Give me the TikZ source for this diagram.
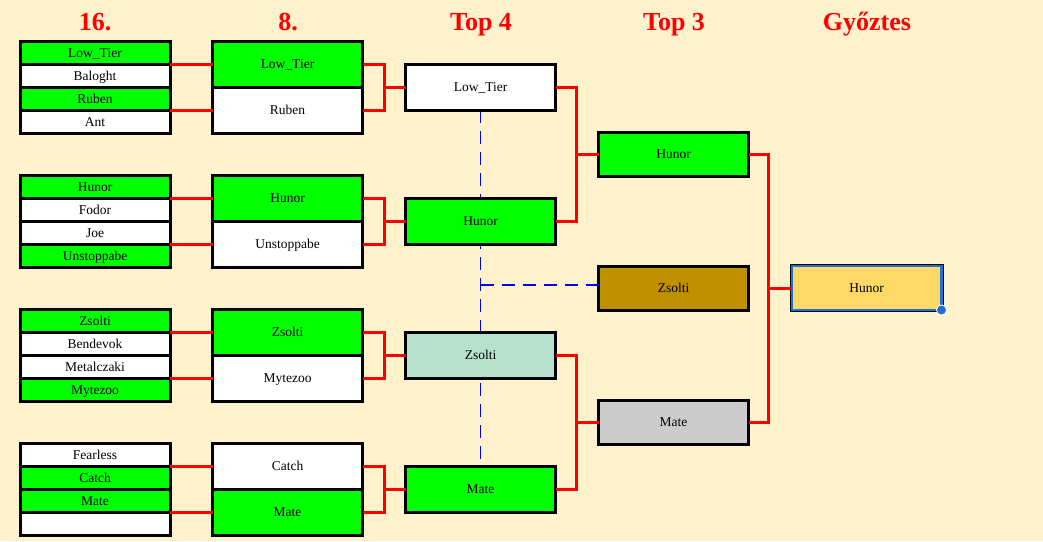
\documentclass[tikz,border=0pt]{standalone}
\usepackage{fontspec}
\setmainfont{Liberation Serif}
\definecolor{bg}{HTML}{FFF2CC}
\definecolor{gr}{HTML}{00FF00}
\definecolor{teal}{HTML}{B7E1CD}
\definecolor{bronze}{HTML}{BF9000}
\definecolor{silver}{HTML}{CCCCCC}
\definecolor{gold}{HTML}{FFD966}
\definecolor{wblue}{HTML}{1E6FD9}
\tikzset{
  cell/.style={draw=black, line width=3pt, inner sep=0pt, outer sep=0pt, minimum width=150pt, minimum height=23pt, text height=9pt, text depth=0pt, font=\fontsize{13.5}{13.5}\selectfont},
  cellb/.style={cell, minimum height=46pt},
  cellc/.style={cell, minimum height=44pt},
  conn/.style={draw=red, line width=3pt},
  seed/.style={draw=blue, line width=1.2pt, dash pattern=on 13pt off 8pt},
  ttl/.style={text=red, anchor=base, inner sep=0pt, font=\fontsize{26}{26}\selectfont\bfseries}
}
\begin{document}
\begin{tikzpicture}[x=1pt,y=-1pt]
\fill[bg] (0,0) rectangle (1043,541);
\useasboundingbox (0,0) rectangle (1043,541);
% titles
\node[ttl] (t16) at (95,30) {16.};
\node[ttl] (t8) at (288,30) {8.};
\node[ttl] (t4) at (481,30) {Top 4};
\node[ttl] (t3) at (674,30) {Top 3};
\node[ttl] (tw) at (867,30) {Győztes};
% seeding dashed lines (behind boxes)
\coordinate (s1) at (480.5,110);
\coordinate (s2) at (480.5,466);
\draw[seed] (s1) -- (s2);
% column 16
\node[cell, fill=gr] (a11) at (95,52.5) {Low\_Tier};
\node[cell, fill=white] (a12) at (95,75.5) {Baloght};
\node[cell, fill=gr] (a13) at (95,98.5) {Ruben};
\node[cell, fill=white] (a14) at (95,121.5) {Ant};
\node[cell, fill=gr] (a21) at (95,186.5) {Hunor};
\node[cell, fill=white] (a22) at (95,209.5) {Fodor};
\node[cell, fill=white] (a23) at (95,232.5) {Joe};
\node[cell, fill=gr] (a24) at (95,255.5) {Unstoppabe};
\node[cell, fill=gr] (a31) at (95,320.5) {Zsolti};
\node[cell, fill=white] (a32) at (95,343.5) {Bendevok};
\node[cell, fill=white] (a33) at (95,366.5) {Metalczaki};
\node[cell, fill=gr] (a34) at (95,389.5) {Mytezoo};
\node[cell, fill=white] (a41) at (95,454.5) {Fearless};
\node[cell, fill=gr] (a42) at (95,477.5) {Catch};
\node[cell, fill=gr] (a43) at (95,500.5) {Mate};
\node[cell, fill=white] (a44) at (95,523.5) {};
% column 8
\node[cellb, fill=gr] (b1t) at (287.5,64) {Low\_Tier};
\node[cellb, fill=white] (b1b) at (287.5,110) {Ruben};
\node[cellb, fill=gr] (b2t) at (287.5,198) {Hunor};
\node[cellb, fill=white] (b2b) at (287.5,244) {Unstoppabe};
\node[cellb, fill=gr] (b3t) at (287.5,332) {Zsolti};
\node[cellb, fill=white] (b3b) at (287.5,378) {Mytezoo};
\node[cellb, fill=white] (b4t) at (287.5,466) {Catch};
\node[cellb, fill=gr] (b4b) at (287.5,512) {Mate};
% top 4
\node[cellb, fill=white] (c1) at (480.5,87) {Low\_Tier};
\node[cellb, fill=gr] (c2) at (480.5,221) {Hunor};
\node[cellb, fill=teal] (c3) at (480.5,355) {Zsolti};
\node[cellb, fill=gr] (c4) at (480.5,489) {Mate};
% top 3
\node[cellc, fill=gr] (d1) at (673.5,154) {Hunor};
\node[cellc, fill=bronze] (d2) at (673.5,288) {Zsolti};
\node[cellc, fill=silver] (d3) at (673.5,422) {Mate};
% winner
\node[cellc, fill=gold, draw=wblue, line width=2.5pt] (w) at (866.5,288) {Hunor};
\draw[black, line width=1pt] ([shift={(-1.5,-1.5)}]w.north west) rectangle ([shift={(1.5,1.5)}]w.south east);
\fill[white] (w.south east) circle (5.5pt);
\fill[wblue] (w.south east) circle (4.5pt);
% bronze dashed link
\draw[seed] (c2.south |- d2.west) ++(0,-3) -- ([yshift=3pt]d2.west);
% connectors 16 -> 8
\draw[conn] (a11.south east) -- (b1t.west);
\draw[conn] (a13.south east) -- (b1b.west);
\draw[conn] (a21.south east) -- (b2t.west);
\draw[conn] (a23.south east) -- (b2b.west);
\draw[conn] (a31.south east) -- (b3t.west);
\draw[conn] (a33.south east) -- (b3b.west);
\draw[conn] (a41.south east) -- (b4t.west);
\draw[conn] (a43.south east) -- (b4b.west);
% connectors 8 -> top 4
\draw[conn] (b1t.east) -- ++(22,0) |- (c1.west);
\draw[conn] (b1b.east) -- ++(22,0) |- (c1.west);
\draw[conn] (b2t.east) -- ++(22,0) |- (c2.west);
\draw[conn] (b2b.east) -- ++(22,0) |- (c2.west);
\draw[conn] (b3t.east) -- ++(22,0) |- (c3.west);
\draw[conn] (b3b.east) -- ++(22,0) |- (c3.west);
\draw[conn] (b4t.east) -- ++(22,0) |- (c4.west);
\draw[conn] (b4b.east) -- ++(22,0) |- (c4.west);
% top 4 -> top 3
\draw[conn] (c1.east) -- ++(21,0) |- (d1.west);
\draw[conn] (c2.east) -- ++(21,0) |- (d1.west);
\draw[conn] (c3.east) -- ++(21,0) |- (d3.west);
\draw[conn] (c4.east) -- ++(21,0) |- (d3.west);
% top 3 -> winner
\draw[conn] (d1.east) -- ++(20,0) |- (w.west);
\draw[conn] (d3.east) -- ++(20,0) |- (w.west);
\end{tikzpicture}
\end{document}
